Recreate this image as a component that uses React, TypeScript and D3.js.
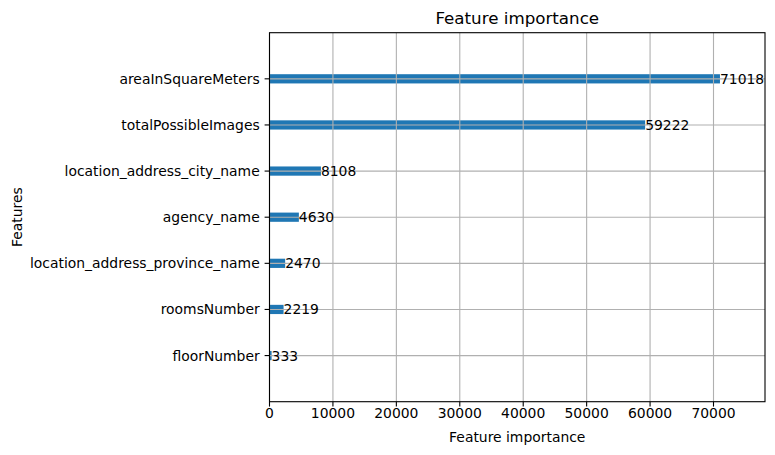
import React from 'react';
import * as d3 from 'd3';

// features in plotting order (bottom to top)
const features = [
  'floorNumber',
  'roomsNumber',
  'location_address_province_name',
  'agency_name',
  'location_address_city_name',
  'totalPossibleImages',
  'areaInSquareMeters',
];
const importance = [333, 2219, 2470, 4630, 8108, 59222, 71018];
const xTicks = [0, 10000, 20000, 30000, 40000, 50000, 60000, 70000];

const W = 775;
const H = 455;
const left = 269.5;
const right = 765;
const top = 32.7;
const bottom = 401.7;
const font = 'DejaVu Sans, sans-serif';

const App = () => {
  const x = d3.scaleLinear().domain([0, d3.max(importance)! * 1.1]).range([left, right]);
  const y = d3.scaleLinear().domain([-1, features.length]).range([bottom, top]);
  const barH = Math.abs(y(0.2) - y(0));
  const grid = '#b0b0b0';

  return (
    <svg width={W} height={H} style={{ position: 'absolute', left: 0, top: 0 }} fontFamily={font}>
      <rect width={W} height={H} fill="white" />
      {/* bars */}
      {importance.map((v, i) => (
        <rect key={features[i]} x={x(0)} y={y(i) - barH / 2} width={x(v) - x(0)} height={barH} fill="#1f77b4" />
      ))}
      {/* grid above bars */}
      {xTicks.map((t) => (
        <line key={'gx' + t} x1={x(t)} x2={x(t)} y1={top} y2={bottom} stroke={grid} strokeWidth={1.1} />
      ))}
      {features.map((f, i) => (
        <line key={'gy' + f} x1={left} x2={right} y1={y(i)} y2={y(i)} stroke={grid} strokeWidth={1.1} />
      ))}
      {/* value labels */}
      {importance.map((v, i) => (
        <text key={'v' + i} x={x(v + 1)} y={y(i)} dy="0.36em" fontSize={13.9} fill="black">
          {v}
        </text>
      ))}
      {/* frame */}
      <rect x={left} y={top} width={right - left} height={bottom - top} fill="none" stroke="black" strokeWidth={1.1} />
      {/* x ticks */}
      {xTicks.map((t) => (
        <g key={'xt' + t}>
          <line x1={x(t)} x2={x(t)} y1={bottom} y2={bottom + 4.9} stroke="black" strokeWidth={1.1} />
          <text x={x(t)} y={bottom + 16.5} textAnchor="middle" fontSize={13.9}>
            {t}
          </text>
        </g>
      ))}
      {/* y ticks */}
      {features.map((f, i) => (
        <g key={'yt' + f}>
          <line x1={left - 4.9} x2={left} y1={y(i)} y2={y(i)} stroke="black" strokeWidth={1.1} />
          <text x={left - 9.8} y={y(i)} dy="0.36em" textAnchor="end" fontSize={13.9}>
            {f}
          </text>
        </g>
      ))}
      <text x={(left + right) / 2} y={24} textAnchor="middle" fontSize={16.7}>
        Feature importance
      </text>
      <text x={(left + right) / 2} y={442} textAnchor="middle" fontSize={13.9}>
        Feature importance
      </text>
      <text transform={`translate(22,${(top + bottom) / 2}) rotate(-90)`} textAnchor="middle" fontSize={13.9}>
        Features
      </text>
    </svg>
  );
};

export default App;
